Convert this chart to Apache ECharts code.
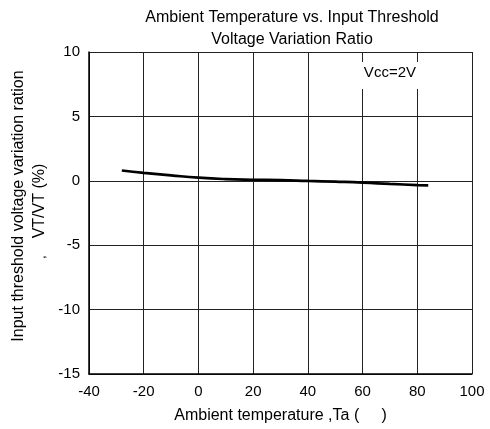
<!DOCTYPE html>
<html><head><meta charset="utf-8">
<script src="https://cdn.jsdelivr.net/npm/echarts@6/dist/echarts.min.js"></script>
<style>html,body{margin:0;padding:0;background:#fff}#c{width:490px;height:429px}</style>
</head><body><div id="c"></div>
<script>
const xTicks = [-40, -20, 0, 20, 40, 60, 80, 100];
const yTicks = [-15, -10, -5, 0, 5, 10];
const temperature = [-28, -20, -10, 0, 10, 20, 30, 40, 50, 60, 70, 80, 84];
const variation = [0.8, 0.62, 0.42, 0.24, 0.13, 0.08, 0.05, -0.01, -0.07, -0.14, -0.24, -0.33, -0.36];
const seriesData = temperature.map((t, i) => [t, variation[i]]);
const FONT = '"Liberation Sans", Arial, sans-serif';

const chart = echarts.init(document.getElementById('c'));
chart.setOption({
  animation: false,
  backgroundColor: '#fff',
  title: {
    text: 'Ambient Temperature vs. Input Threshold\nVoltage Variation Ratio',
    left: 287, top: 2, textAlign: 'center',
    textStyle: { fontFamily: FONT, fontSize: 16, fontWeight: 'normal', color: '#000', lineHeight: 21.5 }
  },
  grid: { left: 89, right: 18, top: 52, bottom: 55 },
  xAxis: {
    type: 'value', min: xTicks[0], max: xTicks[xTicks.length - 1], interval: 20,
    name: 'Ambient temperature ,Ta (     )', nameLocation: 'middle', nameGap: 34,
    nameTextStyle: { fontFamily: FONT, fontSize: 16, color: '#000' },
    axisLine: { show: true, onZero: false, lineStyle: { color: '#000', width: 1.5 } },
    axisTick: { show: false },
    axisLabel: { fontFamily: FONT, fontSize: 15, color: '#000', margin: 10 },
    splitLine: { show: true, lineStyle: { color: '#222', width: 1 } }
  },
  yAxis: {
    type: 'value', min: yTicks[0], max: yTicks[yTicks.length - 1], interval: 5,
    axisLine: { show: true, onZero: false, lineStyle: { color: '#000', width: 1.5 } },
    axisTick: { show: false },
    axisLabel: { fontFamily: FONT, fontSize: 15, color: '#000', margin: 9 },
    splitLine: { show: true, lineStyle: { color: '#222', width: 1 } }
  },
  series: [{
    type: 'line', data: seriesData, smooth: true, symbol: 'none',
    lineStyle: { color: '#000', width: 2.7 }, z: 5
  }]
});

const p = chart.convertToPixel({ gridIndex: 0 }, [70, 8.37]);
chart.setOption({
  graphic: [
    { type: 'rect', shape: { x: p[0] - 29, y: p[1] - 11, width: 58, height: 27 }, style: { fill: '#fff' }, z: 10 },
    { type: 'text', x: p[0], y: p[1], z: 11,
      style: { text: 'Vcc=2V', fontFamily: FONT, fontSize: 15, fill: '#000', align: 'center', verticalAlign: 'middle' } },
    { type: 'text', x: 19, y: 206, rotation: Math.PI / 2, z: 11,
      style: { text: 'Input threshold voltage variation ration', fontFamily: FONT, fontSize: 16, fill: '#000', align: 'center', verticalAlign: 'middle' } },
    { type: 'text', x: 40, y: 201, rotation: Math.PI / 2, z: 11,
      style: { text: 'VT/VT (%)', fontFamily: FONT, fontSize: 16, fill: '#000', align: 'center', verticalAlign: 'middle' } },
    { type: 'text', x: 42, y: 257, rotation: Math.PI / 2, z: 11,
      style: { text: ',', fontFamily: FONT, fontSize: 12, fill: '#000', align: 'center', verticalAlign: 'middle' } }
  ]
});
</script></body></html>
